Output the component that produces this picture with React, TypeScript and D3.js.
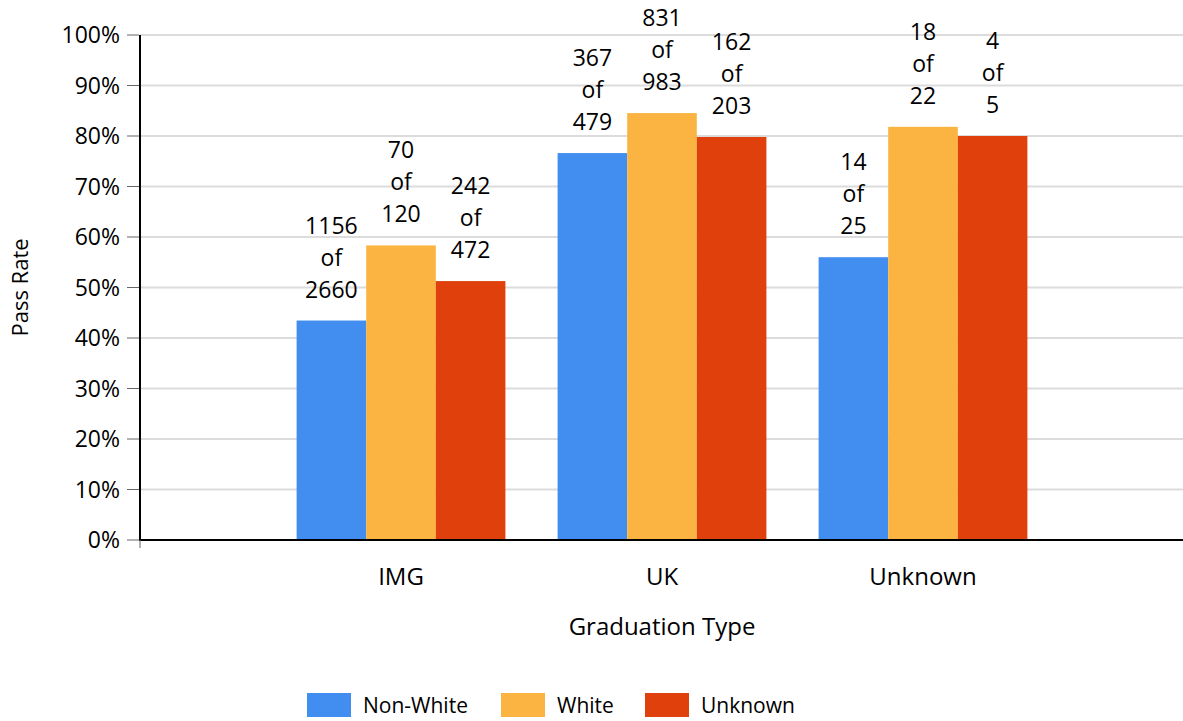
import React from "react";
import * as d3 from "d3";

const categories = ["IMG", "UK", "Unknown"];
const seriesNames = ["Non-White", "White", "Unknown"];
const seriesColors = ["#418ef0", "#fbb441", "#e0400b"];
// passes and totals per series, per category
const passes = [
  [1156, 367, 14],
  [70, 831, 18],
  [242, 162, 4],
];
const totals = [
  [2660, 479, 25],
  [120, 983, 22],
  [472, 203, 5],
];
const yTicks = [0, 10, 20, 30, 40, 50, 60, 70, 80, 90, 100];

const W = 1183;
const H = 721;
const left = 140;
const right = 1184;
const top = 35;
const bottom = 540;
const FONT = "'Open Sans', 'Noto Sans', sans-serif";

export default function App() {
  const x = d3.scaleLinear().domain([0, 4]).range([left, right]);
  const y = d3.scaleLinear().domain([0, 100]).range([bottom, top]);
  const groupW = 0.8;
  const barW = groupW / seriesNames.length;
  const legendX = [307, 501, 645];
  const lineH = 32;

  return (
    <svg
      width={W}
      height={H}
      style={{ position: "absolute", left: 0, top: 0, background: "#fff" }}
      fontFamily={FONT}
    >
      {yTicks.map((t) => (
        <g key={t}>
          {t > 0 && (
            <line x1={left} x2={W} y1={y(t)} y2={y(t)} stroke="#dcdcdc" strokeWidth={2} />
          )}
          <line x1={127} x2={139} y1={y(t)} y2={y(t)} stroke="#666" strokeWidth={1} />
          <text x={120} y={y(t)} dy="0.36em" textAnchor="end" fontSize={23} fill="#000">
            {t}%
          </text>
        </g>
      ))}
      {categories.map((c, ci) =>
        seriesNames.map((s, si) => {
          const v = (passes[si][ci] / totals[si][ci]) * 100;
          const x0 = x(ci + 1 - groupW / 2 + si * barW);
          const x1 = x(ci + 1 - groupW / 2 + (si + 1) * barW);
          const yt = y(v);
          const lines = [String(passes[si][ci]), "of", String(totals[si][ci])];
          return (
            <g key={c + s}>
              <rect x={x0} y={yt} width={x1 - x0} height={bottom - yt} fill={seriesColors[si]} />
              {lines.map((l, li) => (
                <text
                  key={li}
                  x={(x0 + x1) / 2}
                  y={yt - 23 - (2 - li) * lineH}
                  textAnchor="middle"
                  fontSize={23}
                  fill="#000"
                >
                  {l}
                </text>
              ))}
            </g>
          );
        })
      )}
      <line x1={left} x2={left} y1={top} y2={bottom + 1} stroke="#000" strokeWidth={2} />
      <line x1={left - 1} x2={W} y1={bottom} y2={bottom} stroke="#000" strokeWidth={2} />
      <line x1={left} x2={left} y1={bottom} y2={bottom + 8} stroke="#666" strokeWidth={1} />
      {categories.map((c, ci) => (
        <text key={c} x={x(ci + 1)} y={585} textAnchor="middle" fontSize={24} fill="#000">
          {c}
        </text>
      ))}
      <text x={(left + right) / 2} y={635} textAnchor="middle" fontSize={24} fill="#000">
        Graduation Type
      </text>
      <text
        transform={`translate(28, ${(top + bottom) / 2}) rotate(-90)`}
        textAnchor="middle"
        fontSize={22}
        fill="#000"
      >
        Pass Rate
      </text>
      {seriesNames.map((s, si) => (
        <g key={s}>
          <rect x={legendX[si]} y={693} width={44} height={24} fill={seriesColors[si]} />
          <text x={legendX[si] + 56} y={705} dy="0.36em" fontSize={21} fill="#000">
            {s}
          </text>
        </g>
      ))}
    </svg>
  );
}
